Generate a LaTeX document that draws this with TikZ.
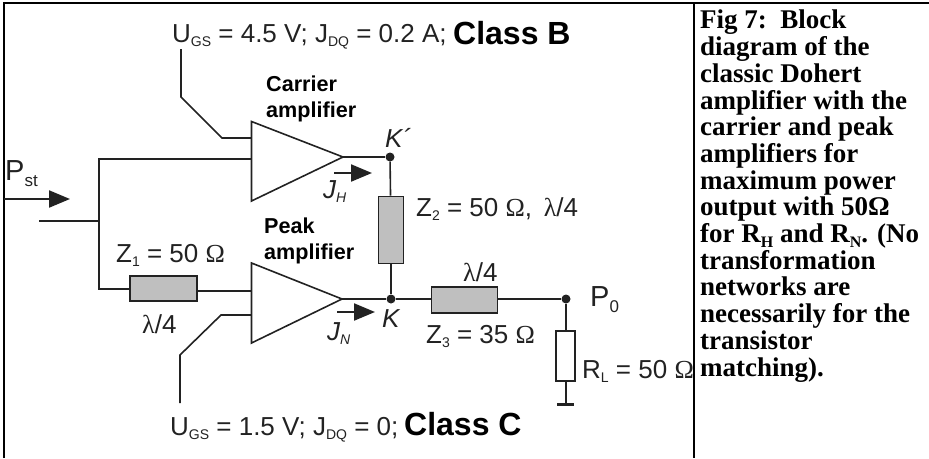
\documentclass[tikz,border=0pt]{standalone}
\usepackage{fontspec}
\setmainfont{Liberation Sans}
\newfontfamily\capfont{Liberation Serif}
\usetikzlibrary{arrows.meta}
\newcommand{\lowtx}[1]{\raisebox{-4.5pt}{\fontsize{14}{14}\selectfont #1}}
\newcommand{\lowbig}[1]{\raisebox{-6pt}{\fontsize{17}{17}\selectfont #1}}
\newcommand{\lowit}[1]{\raisebox{-4.5pt}{\fontsize{14}{14}\selectfont\itshape #1}}
\newcommand{\sy}[1]{{\capfont #1}}
\newcommand{\capsub}[1]{\raisebox{-5pt}{\fontsize{16}{16}\selectfont #1}}
\definecolor{ink}{HTML}{222222}
\tikzset{
  x=1pt,y=-1pt,
  wire/.style={draw=ink,line width=1.6pt},
  frameline/.style={draw=black,line width=2.4pt},
  blockbox/.style={draw=ink,line width=1.7pt,fill=black!25,inner sep=0pt,minimum width=#1},
  lbl/.style={anchor=base west,inner sep=0pt,text=ink,font=\fontsize{26}{26}\selectfont},
  bigl/.style={lbl,font=\fontsize{29}{29}\selectfont},
  itl/.style={lbl,font=\fontsize{26}{26}\selectfont\itshape},
  cls/.style={lbl,text=black,font=\fontsize{32}{32}\selectfont\bfseries},
  amp/.style={lbl,text=black,font=\fontsize{21.6}{26}\selectfont\bfseries,align=left},
  dot/.style={circle,fill=ink,inner sep=0pt,minimum size=9pt},
  bigarrow/.style={draw=ink,line width=2.2pt,-{Triangle[length=21pt,width=17pt]}},
}
\begin{document}
\begin{tikzpicture}
\useasboundingbox (0,0) rectangle (929,458);
% frame
\coordinate (fa) at (4,458); \coordinate (fb) at (4,3); \coordinate (fc) at (929,3);
\coordinate (fd) at (694,3); \coordinate (fe) at (694,458);
\draw[frameline] (fa) -- (fb) -- (fc);
\draw[frameline] (fd) -- (fe);
% amplifiers
\coordinate (c1) at (251.5,121.5); \coordinate (c2) at (343,157); \coordinate (c3) at (251.5,201);
\coordinate (p1) at (251.5,263); \coordinate (p2) at (342,299); \coordinate (p3) at (251.5,343);
\draw[wire,line join=miter] (c1) -- (c2) -- (c3) -- cycle;
\draw[wire,line join=miter] (p1) -- (p2) -- (p3) -- cycle;
% junctions and free ends
\node[dot] (kp) at (390,157) {};
\node[dot] (k) at (391,299) {};
\node[dot] (po) at (566,299) {};
\node[blockbox=67pt,minimum height=25pt] (z1) at (163.5,288.5) {};
\node[blockbox=25pt,minimum height=67pt] (z2) at (391,230) {};
\node[blockbox=66pt,minimum height=26pt] (z3) at (464.5,300) {};
\node[draw=ink,line width=1.7pt,fill=white,inner sep=0pt,minimum width=19pt,minimum height=50pt] (rl) at (565.5,356) {};
% input network
\coordinate (in) at (39,221); \coordinate (n) at (99,221);
\coordinate (ct) at (99,159); \coordinate (ci) at (251.5,159);
\coordinate (zb) at (99,289); \coordinate (pi) at (251.5,291);
\draw[wire] (in) -- (n);
\draw[wire] (ci) -- (ct) -- (zb) -- (z1.west |- zb);
\draw[wire] (z1.east |- pi) -- (pi);
% bias
\coordinate (g1) at (181,49); \coordinate (g2) at (181,97); \coordinate (g3) at (222,138); \coordinate (g4) at (251.5,138);
\coordinate (h1) at (180,403); \coordinate (h2) at (180,355); \coordinate (h3) at (221,315); \coordinate (h4) at (251.5,315);
\draw[wire] (g1) -- (g2) -- (g3) -- (g4);
\draw[wire] (h1) -- (h2) -- (h3) -- (h4);
% outputs
\draw[wire] (c2) -- (kp);
\draw[wire] (kp) -- (z2);
\draw[wire] (z2) -- (k);
\draw[wire] (p2) -- (k);
\draw[wire] (k) -- (z3.west |- k);
\draw[wire] (z3.east |- po) -- (po);
\draw[wire] (po) -- (po |- rl.north);
\coordinate (gnd) at (566,404);
\coordinate (gl) at (557,404); \coordinate (gr) at (574,404);
\draw[wire] (po |- rl.south) -- (gnd);
\draw[draw=ink,line width=3pt] (gl) -- (gr);
% arrows
\coordinate (aa) at (4,199); \coordinate (ab) at (70,199);
\coordinate (ac) at (334,173); \coordinate (ad) at (372,173);
\coordinate (ae) at (337,312); \coordinate (af) at (375,312);
\draw[bigarrow] (aa) -- (ab);
\draw[bigarrow] (ac) -- (ad);
\draw[bigarrow] (ae) -- (af);
% labels
\node[lbl] (t1) at (172,42) {U\lowtx{GS} = 4.5 V; J\lowtx{DQ} = 0.2 A;};
\node[cls] (t2) at (453,44) {Class B};
\node[amp] (t3) at (266,117) {Carrier\\amplifier};
\node[amp] (t4) at (264,259) {Peak\\amplifier};
\node[bigl] (t5) at (5,180) {P\lowbig{st}};
\node[itl] (t6) at (385,147) {K´};
\node[itl] (t7) at (323,198) {J\lowit{H}};
\node[itl] (t8) at (327,340) {J\lowit{N}};
\node[itl] (t9) at (382,327) {K};
\node[lbl] (t10) at (416,216) {Z\lowtx{2} = 50 \sy{Ω},\, \sy{λ}/4};
\node[lbl] (t11) at (116,262) {Z\lowtx{1} = 50 \sy{Ω}};
\node[lbl] (t12) at (142,333) {\sy{λ}/4};
\node[lbl] (t13) at (463,281) {\sy{λ}/4};
\node[lbl] (t14) at (426,343) {Z\lowtx{3} = 35 \sy{Ω}};
\node[bigl] (t15) at (590,306) {P\lowbig{0}};
\node[lbl] (t16) at (582,378) {R\lowtx{L} = 50 \sy{Ω}};
\node[lbl] (t17) at (170,435) {U\lowtx{GS} = 1.5 V; J\lowtx{DQ} = 0;};
\node[cls] (t18) at (404,435) {Class C};
% caption
\node[anchor=base west,inner sep=0pt,align=left,text=black,
      font=\capfont\bfseries\fontsize{27}{26.7}\selectfont] (cap) at (700,376)
 {Fig 7:\ \ Block\\diagram of the\\classic Dohert\\amplifier with the\\carrier and peak\\amplifiers for\\maximum power\\output with 50Ω\\for R\capsub{H} and R\capsub{N}. (No\\transformation\\networks are\\necessarily for the\\transistor\\matching).};
\end{tikzpicture}
\end{document}
